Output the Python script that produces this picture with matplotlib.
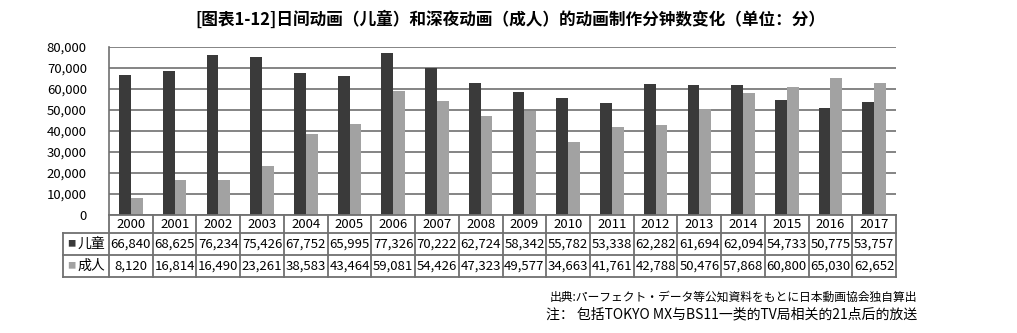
import numpy as np
import matplotlib
matplotlib.use("Agg")
import matplotlib.pyplot as plt
from matplotlib.ticker import FuncFormatter
from matplotlib.transforms import blended_transform_factory

plt.rcParams['font.family'] = ['Noto Sans CJK SC', 'DejaVu Sans']

# === Datos ===
years = [str(y) for y in range(2000, 2018)]
children = [66840, 68625, 76234, 75426, 67752, 65995, 77326, 70222, 62724,
            58342, 55782, 53338, 62282, 61694, 62094, 54733, 50775, 53757]
adults = [8120, 16814, 16490, 23261, 38583, 43464, 59081, 54426, 47323,
          49577, 34663, 41761, 42788, 50476, 57868, 60800, 65030, 62652]
series_names = ['儿童', '成人']

dark = '#3a3a3a'
light = '#a2a2a2'
line_c = '#707070'

fig = plt.figure(figsize=(10.17, 3.33), dpi=100)
ax = fig.add_axes([0.1072, 0.354, 0.7739, 0.505])

x = np.arange(len(years))
w = 0.27
ax.bar(x - w / 2, children, w, color=dark, zorder=3)
ax.bar(x + w / 2, adults, w, color=light, zorder=3)

ax.set_xlim(-0.5, len(years) - 0.5)
ax.set_ylim(0, 80000)
ax.set_yticks(range(0, 80001, 10000))
ax.yaxis.set_major_formatter(FuncFormatter(lambda v, p: f'{int(v):,}'))
ax.tick_params(axis='y', length=0, pad=16, labelsize=9.5)
ax.set_xticks([])
ax.grid(axis='y', color=line_c, lw=1.2, zorder=0)
for s in ['top', 'right', 'bottom']:
    ax.spines[s].set_visible(False)
ax.spines['left'].set_color(line_c)
ax.spines['left'].set_linewidth(1.2)

# === Tabla de datos bajo el gráfico ===
trans = blended_transform_factory(ax.transData, ax.transAxes)
h = 168.0
rows = [0, -18 / h, -40 / h, -62 / h]
left = -0.5
label_left = -1.55
right = len(years) - 0.5

def linea(xs, ys):
    ax.plot(xs, ys, transform=trans, color=line_c, lw=1.3, clip_on=False, zorder=4)

linea([left, right], [0, 0])
for r in rows[1:]:
    linea([label_left, right], [r, r])
for i in range(len(years) + 1):
    linea([left + i, left + i], [rows[0], rows[3]])
linea([label_left, label_left], [rows[1], rows[3]])

for i, yr in enumerate(years):
    ax.text(i, (rows[0] + rows[1]) / 2, yr, transform=trans, ha='center', va='center',
            fontsize=9.5, clip_on=False)
    ax.text(i, (rows[1] + rows[2]) / 2, f'{children[i]:,}', transform=trans, ha='center',
            va='center', fontsize=9.5, clip_on=False)
    ax.text(i, (rows[2] + rows[3]) / 2, f'{adults[i]:,}', transform=trans, ha='center',
            va='center', fontsize=9.5, clip_on=False)

for k, (name, col) in enumerate(zip(series_names, [dark, light])):
    yc = (rows[k + 1] + rows[k + 2]) / 2
    ax.text(label_left + 0.1, yc, '■', transform=trans, ha='left', va='center',
            fontsize=6, color=col, clip_on=False)
    ax.text(label_left + 0.32, yc, name, transform=trans, ha='left', va='center',
            fontsize=10, clip_on=False)

# === Títulos y notas ===
fig.text(0.502, 0.94, '[图表1-12]日间动画（儿童）和深夜动画（成人）的动画制作分钟数变化（单位：分）',
         ha='center', va='center', fontsize=12, fontweight='bold')
fig.text(0.902, 0.108, '出典:パーフェクト・データ等公知資料をもとに日本動画協会独自算出',
         ha='right', va='center', fontsize=8.5,
         family=['Noto Sans CJK JP', 'DejaVu Sans'])
fig.text(0.902, 0.057, '注： 包括TOKYO MX与BS11一类的TV局相关的21点后的放送',
         ha='right', va='center', fontsize=10)

fig.savefig('out.png', dpi=100)
